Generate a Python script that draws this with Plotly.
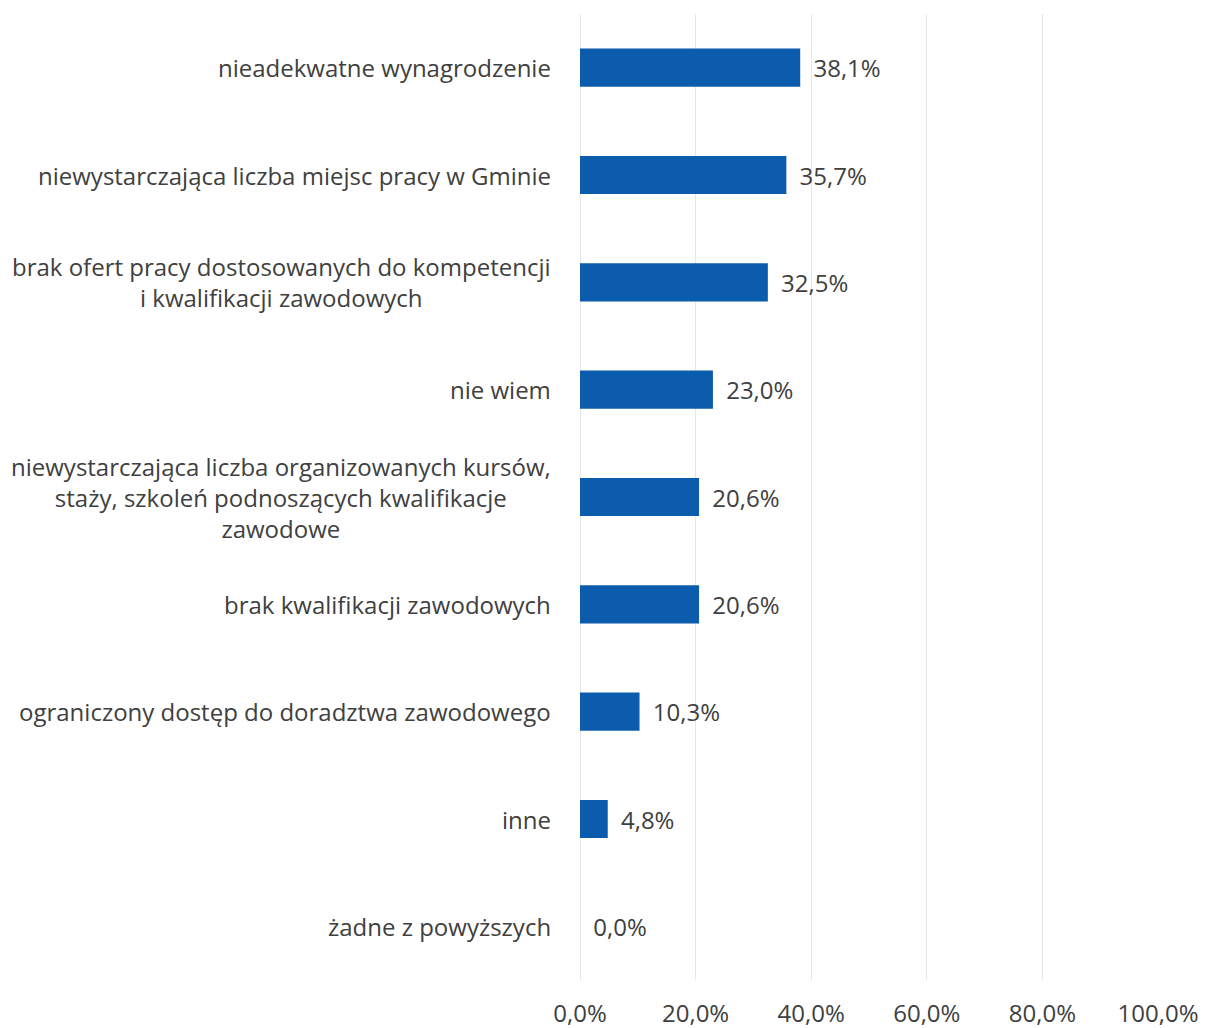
import plotly.graph_objects as go

# data (top to bottom as in the chart)
categories = [
    "nieadekwatne wynagrodzenie",
    "niewystarczająca liczba miejsc pracy w Gminie",
    "brak ofert pracy dostosowanych do kompetencji<br>i kwalifikacji zawodowych",
    "nie wiem",
    "niewystarczająca liczba organizowanych kursów,<br>staży, szkoleń podnoszących kwalifikacje<br>zawodowe",
    "brak kwalifikacji zawodowych",
    "ograniczony dostęp do doradztwa zawodowego",
    "inne",
    "żadne z powyższych",
]
values = [38.1, 35.7, 32.5, 23.0, 20.6, 20.6, 10.3, 4.8, 0.0]
tick_vals = [0, 20, 40, 60, 80, 100]
tick_text = ["0,0%", "20,0%", "40,0%", "60,0%", "80,0%", "100,0%"]

FONT = "'Open Sans', Lato, sans-serif"
TEXT_COLOR = "#404040"
BAR_COLOR = "#0b5cad"
FS = 24

labels = ["\u00a0\u2009" + f"{v:.1f}%".replace(".", ",") for v in values]

fig = go.Figure(go.Bar(
    x=values,
    y=categories,
    orientation="h",
    marker=dict(color=BAR_COLOR, line=dict(width=0)),
    text=labels,
    textposition="outside",
    cliponaxis=False,
    textfont=dict(family=FONT, size=FS, color=TEXT_COLOR),
))

# category labels as annotations so multi-line text is centered
for cat in categories:
    fig.add_annotation(
        x=0, xref="paper", y=cat, yref="y",
        text=cat, showarrow=False,
        xanchor="right", align="center",
        xshift=-27,
        font=dict(family=FONT, size=FS, color=TEXT_COLOR),
    )

# page body adds an 8px margin, so the figure is 8px smaller than the window
fig.update_layout(
    width=1200, height=1020,
    margin=dict(l=572, r=50, t=6, b=48, autoexpand=False),
    paper_bgcolor="white", plot_bgcolor="white",
    bargap=0.645,
    showlegend=False,
    font=dict(family=FONT, color=TEXT_COLOR),
)
fig.update_xaxes(
    range=[0, 100], automargin=False,
    tickvals=tick_vals, ticktext=tick_text,
    showgrid=True, gridcolor="#e6e6e6", gridwidth=1,
    zeroline=True, zerolinecolor="#e6e6e6", zerolinewidth=1,
    showline=False,
    ticks="outside", ticklen=12, tickcolor="rgba(0,0,0,0)",
    tickfont=dict(family=FONT, size=FS, color=TEXT_COLOR),
)
fig.update_yaxes(
    categoryorder="array", categoryarray=categories[::-1],
    showticklabels=False, showgrid=False, zeroline=False,
    showline=False, automargin=False,
)

fig.write_html("out.html")
